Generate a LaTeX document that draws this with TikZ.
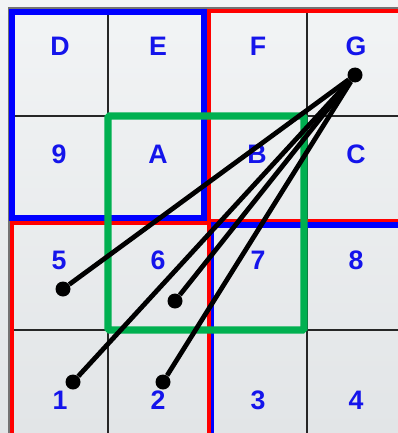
\documentclass[tikz,border=0pt]{standalone}
\usepackage{fontspec}
\setmainfont{Liberation Sans}
\usetikzlibrary{positioning}

\definecolor{lblblue}{RGB}{20,20,235}
\definecolor{boxgreen}{RGB}{0,176,80}
\definecolor{bgtop}{RGB}{242,244,245}
\definecolor{bgbot}{RGB}{226,229,231}

\begin{document}
\begin{tikzpicture}[
    x=0.025cm, y=-0.025cm,
    every node/.style={font=\fontsize{19}{19}\selectfont\bfseries},
    lbl/.style={text=lblblue, anchor=base, inner sep=0pt},
    dot/.style={circle, fill=black, minimum size=15*0.025cm, inner sep=0pt},
    ln/.style={line width=3.4pt},
    gridln/.style={line width=1.3pt, black!85},
    quadblue/.style={draw=blue, line width=3.9pt},
    quadred/.style={draw=red, line width=3.4pt},
    win/.style={draw=boxgreen, line width=5pt, rounded corners=1pt},
  ]
  \useasboundingbox (0,0) rectangle (398,433);
  \clip (0,0) rectangle (398,433);
  % background
  \shade[top color=bgtop, bottom color=bgbot] (0,0) rectangle (398,433);
  \draw[line width=1.2pt, black!55] (9,440) -- (9,8) -- (410,8);
  % grid
  \draw[gridln] (108,10) -- (108,440);
  \draw[gridln] (307,10) -- (307,440);
  \draw[gridln] (10,116) -- (410,116);
  \draw[gridln] (10,330) -- (410,330);
  % quadrants
  \draw[quadred] (209,11) rectangle (420,221);
  \draw[quadblue] (211,225) rectangle (420,440);
  \draw[quadblue] (12,12) rectangle (204,218);
  \draw[quadred] (12,223) rectangle (209,445);
  % green window
  \draw[win] (108,116) rectangle (304,330);
  % labels
  \node[lbl] (lD) at (60,56) {D};
  \node[lbl] (lE) at (158,56) {E};
  \node[lbl] (lF) at (258,56) {F};
  \node[lbl] (lG) at (356,56) {G};
  \node[lbl] (l9) at (59,163) {9};
  \node[lbl] (lA) at (158,163) {A};
  \node[lbl] (lB) at (257,163) {B};
  \node[lbl] (lC) at (356,163) {C};
  \node[lbl] (l5) at (59,269) {5};
  \node[lbl] (l6) at (158,269) {6};
  \node[lbl] (l7) at (258,269) {7};
  \node[lbl] (l8) at (356,269) {8};
  \node[lbl] (l1) at (60,409) {1};
  \node[lbl] (l2) at (158,409) {2};
  \node[lbl] (l3) at (258,409) {3};
  \node[lbl] (l4) at (356,409) {4};
  % rays
  \node[dot] (pg) at (355,75) {};
  \node[dot] (p5) at (63,289) {};
  \node[dot] (p6) at (175,301) {};
  \node[dot] (p1) at (73,382) {};
  \node[dot] (p2) at (163,382) {};
  \draw[ln] (pg) -- (p5);
  \draw[ln] (pg) -- (p6);
  \draw[ln] (pg) -- (p1);
  \draw[ln] (pg) -- (p2);
\end{tikzpicture}
\end{document}
